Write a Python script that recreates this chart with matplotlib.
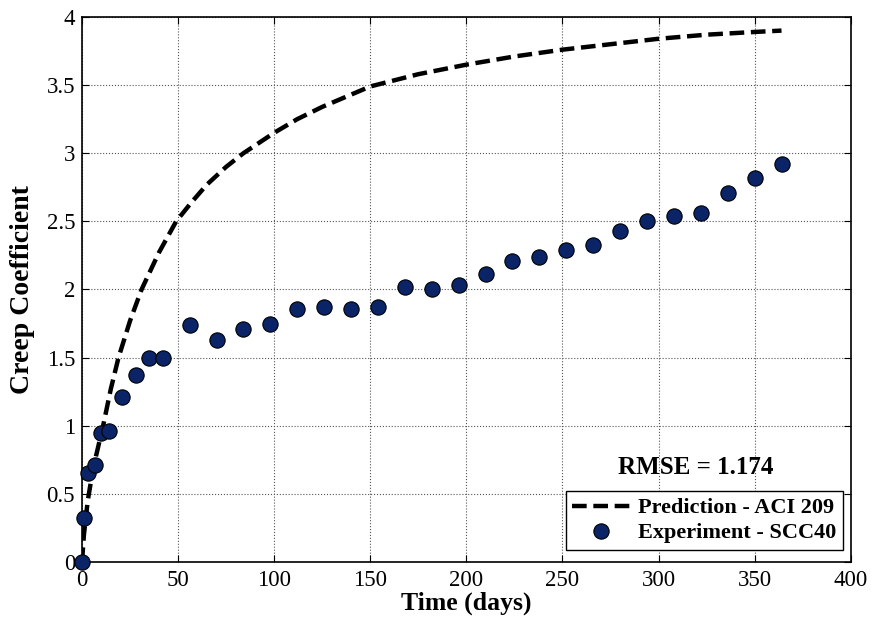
import numpy as np
import matplotlib
matplotlib.use("Agg")
import matplotlib.pyplot as plt

# Experimental creep coefficient (SCC40)
exp_days = [0, 1, 3, 7, 10, 14, 21, 28, 35, 42, 56, 70, 84, 98, 112, 126, 140, 154,
            168, 182, 196, 210, 224, 238, 252, 266, 280, 294, 308, 322, 336, 350, 364]
exp_creep = [0.00, 0.32, 0.65, 0.71, 0.95, 0.96, 1.21, 1.37, 1.50, 1.50, 1.74, 1.63,
             1.71, 1.75, 1.86, 1.87, 1.86, 1.87, 2.02, 2.00, 2.03, 2.11, 2.21, 2.24,
             2.29, 2.33, 2.43, 2.50, 2.54, 2.56, 2.71, 2.82, 2.92]

# ACI 209 prediction
pred_days = [0, 1, 3, 5, 7, 11, 15, 19, 25, 31, 40, 49, 57, 65, 75, 84, 100, 112,
             125, 150, 175, 200, 225, 250, 275, 300, 325, 350, 364]
pred_creep = [0.00, 0.20, 0.45, 0.62, 0.76, 1.00, 1.27, 1.50, 1.77, 2.00, 2.27, 2.50,
              2.64, 2.77, 2.90, 3.00, 3.15, 3.25, 3.34, 3.49, 3.58, 3.65, 3.71, 3.76,
              3.80, 3.84, 3.87, 3.89, 3.90]

rmse_text = "RMSE = 1.174"

plt.rcParams['font.family'] = ['Liberation Serif', 'DejaVu Serif']

fig = plt.figure(figsize=(8.77, 6.24), dpi=100)
ax = fig.add_axes([0.0935, 0.0994, 0.8765, 0.8734])

ax.plot(pred_days, pred_creep, color='black', linestyle=(0, (3.3, 1.5)), linewidth=3.2,
        label='Prediction - ACI 209', zorder=2)
ax.plot(exp_days, exp_creep, linestyle='none', marker='o', markersize=11,
        markerfacecolor='#0b2467', markeredgecolor='black', markeredgewidth=0.8,
        label='Experiment - SCC40', zorder=3, clip_on=False)

ax.set_xlim(0, 400)
ax.set_ylim(0, 4)
ax.set_xticks(np.arange(0, 401, 50))
ax.set_yticks(np.arange(0, 4.01, 0.5))
ax.set_yticklabels(['0', '0.5', '1', '1.5', '2', '2.5', '3', '3.5', '4'])
ax.tick_params(direction='in', top=True, right=True, length=5, width=0.8,
               labelsize=16.5)
ax.tick_params(axis='x', pad=6)
ax.tick_params(axis='y', pad=5)
ax.grid(True, color='#555555', linestyle=':', linewidth=0.8)
for s in ax.spines.values():
    s.set_linewidth(1.2)

ax.set_xlabel('Time (days)', fontsize=18.5, fontweight='bold', labelpad=0)
ax.set_ylabel('Creep Coefficient', fontsize=20, fontweight='bold', labelpad=8)

ax.text(0.799, 0.174, rmse_text, transform=ax.transAxes, ha='center', va='center',
        fontsize=18, fontweight='bold')

leg = ax.legend(loc='lower right', bbox_to_anchor=(0.9896, 0.022),
                prop={'weight': 'bold', 'size': 16}, fancybox=False, framealpha=1,
                edgecolor='black', handlelength=2.6, borderpad=0.3,
                labelspacing=0.2, handletextpad=0.35, borderaxespad=0)
leg.get_frame().set_linewidth(1.0)

fig.savefig('out.png', dpi=100)
